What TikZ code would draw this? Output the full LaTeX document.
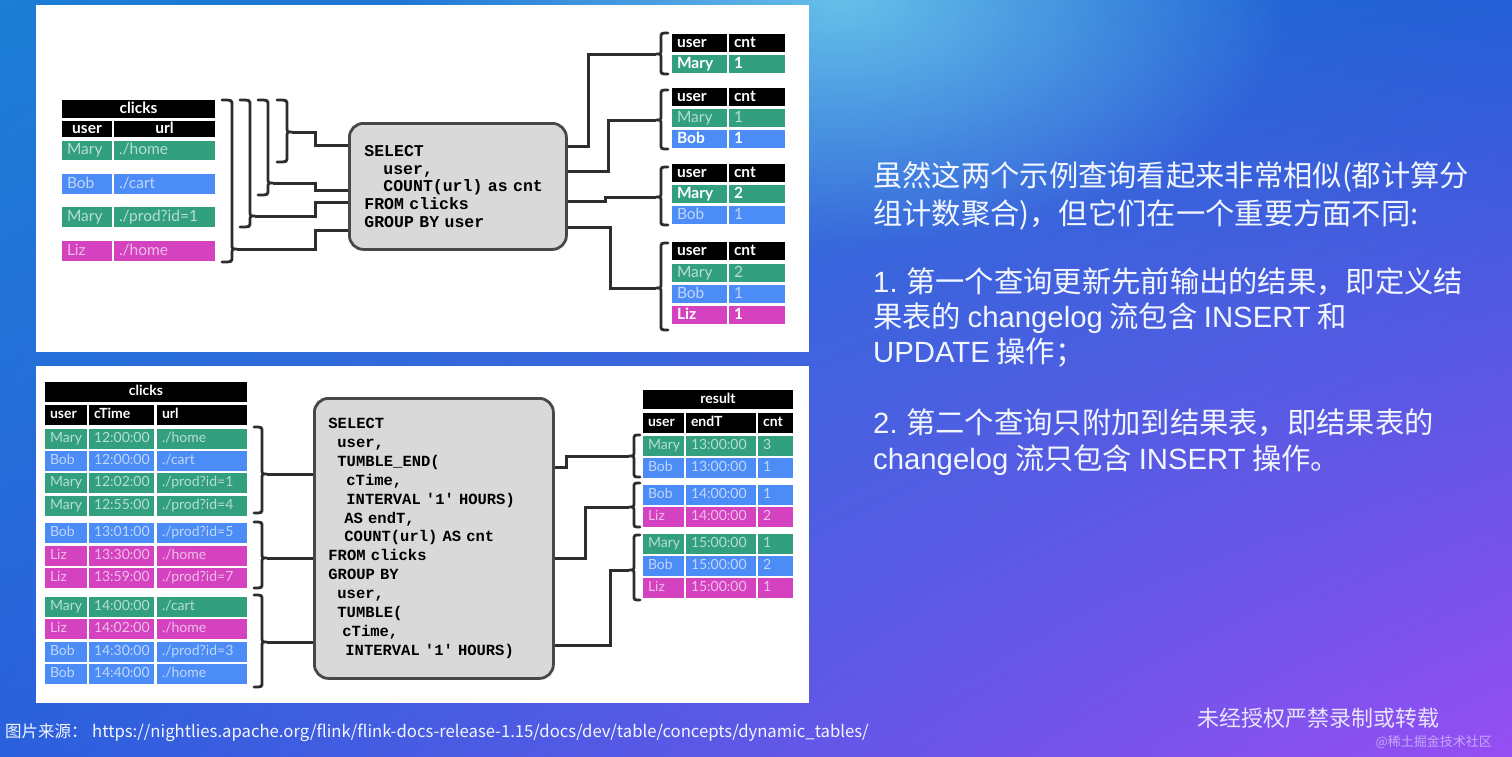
\documentclass[tikz,border=0pt]{standalone}
\usepackage{fontspec}
\setmainfont{Lato}
\newfontfamily\cjk{Noto Sans CJK SC}
\newfontfamily\lat{Liberation Sans}
\newfontfamily\mono{Liberation Mono}
\usetikzlibrary{fadings,shadings}
\definecolor{mgreen}{RGB}{50,160,126}
\definecolor{mblue}{RGB}{76,140,246}
\definecolor{mmag}{RGB}{212,66,192}
\definecolor{qfill}{RGB}{217,217,217}
\definecolor{qborder}{RGB}{72,72,72}
\definecolor{linec}{RGB}{45,45,45}
\definecolor{bgUL}{RGB}{28,126,212}
\definecolor{bgUR}{RGB}{36,96,214}
\definecolor{bgLL}{RGB}{42,96,220}
\definecolor{bgLR}{RGB}{150,78,242}
\definecolor{glowc}{RGB}{110,200,236}
\definecolor{txtc}{RGB}{242,246,255}
\newcommand\tfont{\fontsize{14}{16}\selectfont}
\newcommand\tfontL{\fontsize{15.5}{17}\selectfont}
\newcommand\qfontA{\mono\bfseries\fontsize{16.5}{17.8}\selectfont}
\newcommand\qfontB{\mono\bfseries\fontsize{15.5}{18.9}\selectfont}
\tikzfading[name=glowfade, inner color=transparent!0, outer color=transparent!100]
\tikzset{
  tcellbox/.style={inner ysep=0pt, inner xsep=5pt, outer sep=0pt, text height=10pt, text depth=3pt, font=\tfont},
  big/.style={text height=11pt, text depth=3pt, font=\tfontL},
  bigb/.style={text height=11pt, text depth=3pt, font=\tfontL\bfseries},
  hd/.style={fill=black, text=white, font=\tfont\bfseries},
  gl/.style={fill=mgreen, text=mgreen!35!white},
  gh/.style={fill=mgreen, text=white, font=\tfont\bfseries},
  bl/.style={fill=mblue, text=mblue!35!white},
  bh/.style={fill=mblue, text=white, font=\tfont\bfseries},
  ml/.style={fill=mmag, text=mmag!35!white},
  mh/.style={fill=mmag, text=white, font=\tfont\bfseries},
  conn/.style={draw=linec, line width=3pt},
  bracep/.style={draw=linec, line width=2.8pt, line cap=round},
  qbox/.style={draw=qborder, fill=qfill, line width=2.8pt, rounded corners=14pt, inner ysep=0pt, align=left, anchor=north west},
  panel/.style={fill=white, inner sep=0pt, anchor=north west},
  sidetext/.style={text=txtc, font=\cjk\fontsize{29.3}{34}\selectfont, anchor=base west, inner sep=0pt},
}
% name x1 y1 x2 y2 style align text
\newcommand\tcell[8]{%
  \pgfmathsetmacro\cw{#4-#2-10}%
  \pgfmathsetmacro\ch{#5-#3}%
  \node[tcellbox, #6, align=#7, text width=\cw pt, minimum height=\ch pt, anchor=north west] (#1) at (#2,#3) {#8};}
% name xh xs yt yb ytip
\newcommand\braceR[6]{%
  \draw[bracep] (#2,#4) .. controls (#3,#4) .. (#3,#4+5) -- (#3,#6-5) .. controls (#3,#6) .. (#3+5,#6)
     .. controls (#3,#6) .. (#3,#6+5) -- (#3,#5-5) .. controls (#3,#5) .. (#2,#5);
  \coordinate (#1) at (#3+5,#6);}
\newcommand\braceL[6]{%
  \draw[bracep] (#2,#4) .. controls (#3,#4) .. (#3,#4+5) -- (#3,#6-5) .. controls (#3,#6) .. (#3-5,#6)
     .. controls (#3,#6) .. (#3,#6+5) -- (#3,#5-5) .. controls (#3,#5) .. (#2,#5);
  \coordinate (#1) at (#3-5,#6);}
\newcommand\rowB[7]{%
  \tcell{#1u}{45}{#2}{87}{#3}{#4}{left}{#5}%
  \tcell{#1t}{89}{#2}{154}{#3}{#4}{left}{#6}%
  \tcell{#1l}{157}{#2}{247}{#3}{#4}{left}{#7}}
\newcommand\rowR[7]{%
  \tcell{#1u}{643}{#2}{684}{#3}{#4}{left}{#5}%
  \tcell{#1t}{686}{#2}{756}{#3}{#4}{left}{#6}%
  \tcell{#1c}{758}{#2}{793}{#3}{#4}{left}{#7}}
\newcommand\rowT[6]{%
  \tcell{#1u}{672}{#2}{727}{#3}{#4}{left}{#5}%
  \tcell{#1c}{729}{#2}{785}{#3}{#4}{left}{#6}}
\newcommand\rowA[6]{%
  \tcell{#1u}{62}{#2}{112}{#3}{#4}{left}{#5}%
  \tcell{#1l}{114}{#2}{215}{#3}{#4}{left}{#6}}
\begin{document}
\begin{tikzpicture}[x=1pt,y=-1pt]
\useasboundingbox (0,0) rectangle (1512,756);
\begin{scope}
  \clip (0,0) rectangle (1512,756);
  \shade[upper left=bgUL, upper right=bgUR, lower left=bgLL, lower right=bgLR] (0,0) rectangle (1512,756);
  \fill[glowc, path fading=glowfade, opacity=0.9] (840,0) ellipse [x radius=450, y radius=250];
\end{scope}
% panels
\node[panel, minimum width=773pt, minimum height=347pt] (p1) at (36,5) {};
\node[panel, minimum width=773pt, minimum height=337pt] (p2) at (36,366) {};

% ---------------- top: clicks table
\tcell{c1h}{62}{100}{215}{118}{hd,bigb}{center}{clicks}
\tcell{c1u}{62}{121}{112}{137}{hd,bigb}{center}{user}
\tcell{c1l}{114}{121}{215}{137}{hd,bigb}{center}{url}
\rowA{a1}{141}{160}{gl,big}{Mary}{./home}
\rowA{a2}{174}{194}{bl,big}{Bob}{./cart}
\rowA{a3}{207}{227}{gl,big}{Mary}{./prod?id=1}
\rowA{a4}{241}{261}{ml,big}{Liz}{./home}

% query box 1
\node[qbox, minimum width=217pt, minimum height=126pt, text width=187pt, inner xsep=15pt, font=\qfontA] (q1) at (348,122)
 {SELECT\\\hspace*{19pt}user,\\\hspace*{19pt}COUNT(url) as cnt\\FROM clicks\\GROUP BY user};

% braces left
\braceR{b1}{222}{232}{100}{262}{249}
\braceR{b2}{240}{250}{100}{227}{216}
\braceR{b3}{258}{268}{100}{195}{183}
\braceR{b4}{277}{287}{100}{162}{132}
\draw[conn] (b4) -| (315,145) -- (q1.west |- 0,145);
\draw[conn] (b3) -| (315,190) -- (q1.west |- 0,190);
\draw[conn] (b2) -| (315,202) -- (q1.west |- 0,202);
\draw[conn] (b1) -| (315,230) -- (q1.west |- 0,230);

% output tables
\rowT{t1h}{34}{52}{hd,bigb}{user}{cnt}
\rowT{t1a}{55}{73}{gh,bigb}{Mary}{1}
\rowT{t2h}{88}{106}{hd,bigb}{user}{cnt}
\rowT{t2a}{109}{127}{gl,big}{Mary}{1}
\rowT{t2b}{130}{148}{bh,bigb}{Bob}{1}
\rowT{t3h}{164}{182}{hd,bigb}{user}{cnt}
\rowT{t3a}{185}{203}{gh,bigb}{Mary}{2}
\rowT{t3b}{206}{224}{bl,big}{Bob}{1}
\rowT{t4h}{242}{260}{hd,bigb}{user}{cnt}
\rowT{t4a}{264}{282}{gl,big}{Mary}{2}
\rowT{t4b}{285}{303}{bl,big}{Bob}{1}
\rowT{t4c}{306}{324}{mh,bigb}{Liz}{1}

\braceL{o1}{668}{661}{33}{74}{54}
\braceL{o2}{668}{661}{90}{149}{120}
\braceL{o3}{668}{661}{167}{225}{197}
\braceL{o4}{668}{661}{243}{330}{288}
\draw[conn] (q1.east |- 0,146) -| (588,54) -- (o1);
\draw[conn] (q1.east |- 0,171) -| (608,120) -- (o2);
\draw[conn] (q1.east |- 0,201) -| (605,197) -- (o3);
\draw[conn] (q1.east |- 0,227) -| (610,288) -- (o4);

% ---------------- bottom: clicks table
\tcell{c2h}{45}{382}{247}{402}{hd}{center}{clicks}
\tcell{c2u}{45}{405}{87}{425}{hd}{left}{user}
\tcell{c2t}{89}{405}{154}{425}{hd}{left}{cTime}
\tcell{c2l}{157}{405}{247}{425}{hd}{left}{url}
\rowB{r1}{429}{449}{gl}{Mary}{12:00:00}{./home}
\rowB{r2}{451}{471}{bl}{Bob}{12:00:00}{./cart}
\rowB{r3}{473}{493}{gl}{Mary}{12:02:00}{./prod?id=1}
\rowB{r4}{496}{516}{gl}{Mary}{12:55:00}{./prod?id=4}
\rowB{r5}{523}{543}{bl}{Bob}{13:01:00}{./prod?id=5}
\rowB{r6}{546}{566}{ml}{Liz}{13:30:00}{./home}
\rowB{r7}{568}{588}{ml}{Liz}{13:59:00}{./prod?id=7}
\rowB{r8}{597}{617}{gl}{Mary}{14:00:00}{./cart}
\rowB{r9}{619}{639}{ml}{Liz}{14:02:00}{./home}
\rowB{r10}{642}{662}{bl}{Bob}{14:30:00}{./prod?id=3}
\rowB{r11}{664}{684}{bl}{Bob}{14:40:00}{./home}

% query box 2
\node[qbox, minimum width=239pt, minimum height=280pt, text width=211pt, inner xsep=14pt, font=\qfontB] (q2) at (313,397)
 {SELECT\\
  \hspace*{9pt}user,\\
  \hspace*{9pt}TUMBLE\_END(\\
  \hspace*{18pt}cTime,\\
  \hspace*{18pt}INTERVAL \textquotesingle1\textquotesingle\ HOURS)\\
  \hspace*{16pt}AS endT,\\
  \hspace*{16pt}COUNT(url) AS cnt\\
  FROM clicks\\
  GROUP BY\\
  \hspace*{9pt}user,\\
  \hspace*{9pt}TUMBLE(\\
  \hspace*{14pt}cTime,\\
  \hspace*{17pt}INTERVAL \textquotesingle1\textquotesingle\ HOURS)};

\braceR{g1}{254}{262}{427}{513}{474}
\braceR{g2}{254}{262}{522}{588}{558}
\braceR{g3}{254}{262}{595}{687}{642}
\draw[conn] (g1) -- (q2.west |- g1);
\draw[conn] (g2) -- (q2.west |- g2);
\draw[conn] (g3) -- (q2.west |- g3);

% result table
\tcell{rsh}{643}{390}{793}{409}{hd}{center}{result}
\tcell{rsu}{643}{413}{684}{433}{hd}{left}{user}
\tcell{rst}{686}{413}{756}{433}{hd}{left}{endT}
\tcell{rsc}{758}{413}{793}{433}{hd}{left}{cnt}
\rowR{s1}{436}{456}{gl}{Mary}{13:00:00}{3}
\rowR{s2}{458}{478}{bl}{Bob}{13:00:00}{1}
\rowR{s3}{485}{505}{bl}{Bob}{14:00:00}{1}
\rowR{s4}{507}{527}{ml}{Liz}{14:00:00}{2}
\rowR{s5}{534}{554}{gl}{Mary}{15:00:00}{1}
\rowR{s6}{556}{576}{bl}{Bob}{15:00:00}{2}
\rowR{s7}{578}{598}{ml}{Liz}{15:00:00}{1}

\braceL{h1}{640}{634}{435}{477}{456}
\braceL{h2}{640}{634}{483}{527}{507}
\braceL{h3}{640}{634}{535}{600}{570}
\draw[conn] (q2.east |- 0,467) -| (566,456) -- (h1);
\draw[conn] (q2.east |- 0,558) -| (585,507) -- (h2);
\draw[conn] (q2.east |- 0,645) -| (610,570) -- (h3);

% ---------------- side text
\node[sidetext] (s1) at (873,186) {虽然这两个示例查询看起来非常相似(都计算分};
\node[sidetext] (s2) at (873,224) {组计数聚合)，但它们在一个重要方面不同:};
\node[sidetext] (s3) at (873,292) {{\lat 1.} 第一个查询更新先前输出的结果，即定义结};
\node[sidetext] (s4) at (873,327) {果表的 {\lat changelog} 流包含 {\lat INSERT} 和};
\node[sidetext] (s5) at (873,362) {{\lat UPDATE} 操作；};
\node[sidetext] (s6) at (873,433) {{\lat 2.} 第二个查询只附加到结果表，即结果表的};
\node[sidetext] (s7) at (873,469) {{\lat changelog} 流只包含 {\lat INSERT} 操作。};

% footer
\node[text=txtc, font=\cjk\fontsize{16.5}{18}\selectfont, anchor=base west, inner sep=0pt] (f1) at (5,737) {图片来源：};
\node[text=txtc, font=\cjk\fontsize{16.7}{18}\selectfont, anchor=base west, inner sep=0pt] (f2) at (92,737) {https://nightlies.apache.org/flink/flink-docs-release-1.15/docs/dev/table/concepts/dynamic\_tables/};
\node[text=txtc, opacity=0.9, font=\cjk\fontsize{22}{24}\selectfont, anchor=base west, inner sep=0pt] (w1) at (1197,726) {未经授权严禁录制或转载};
\node[text=white, opacity=0.5, font=\cjk\fontsize{13}{15}\selectfont, anchor=base east, inner sep=0pt] (w2) at (1492,746) {@稀土掘金技术社区};
\end{tikzpicture}
\end{document}
